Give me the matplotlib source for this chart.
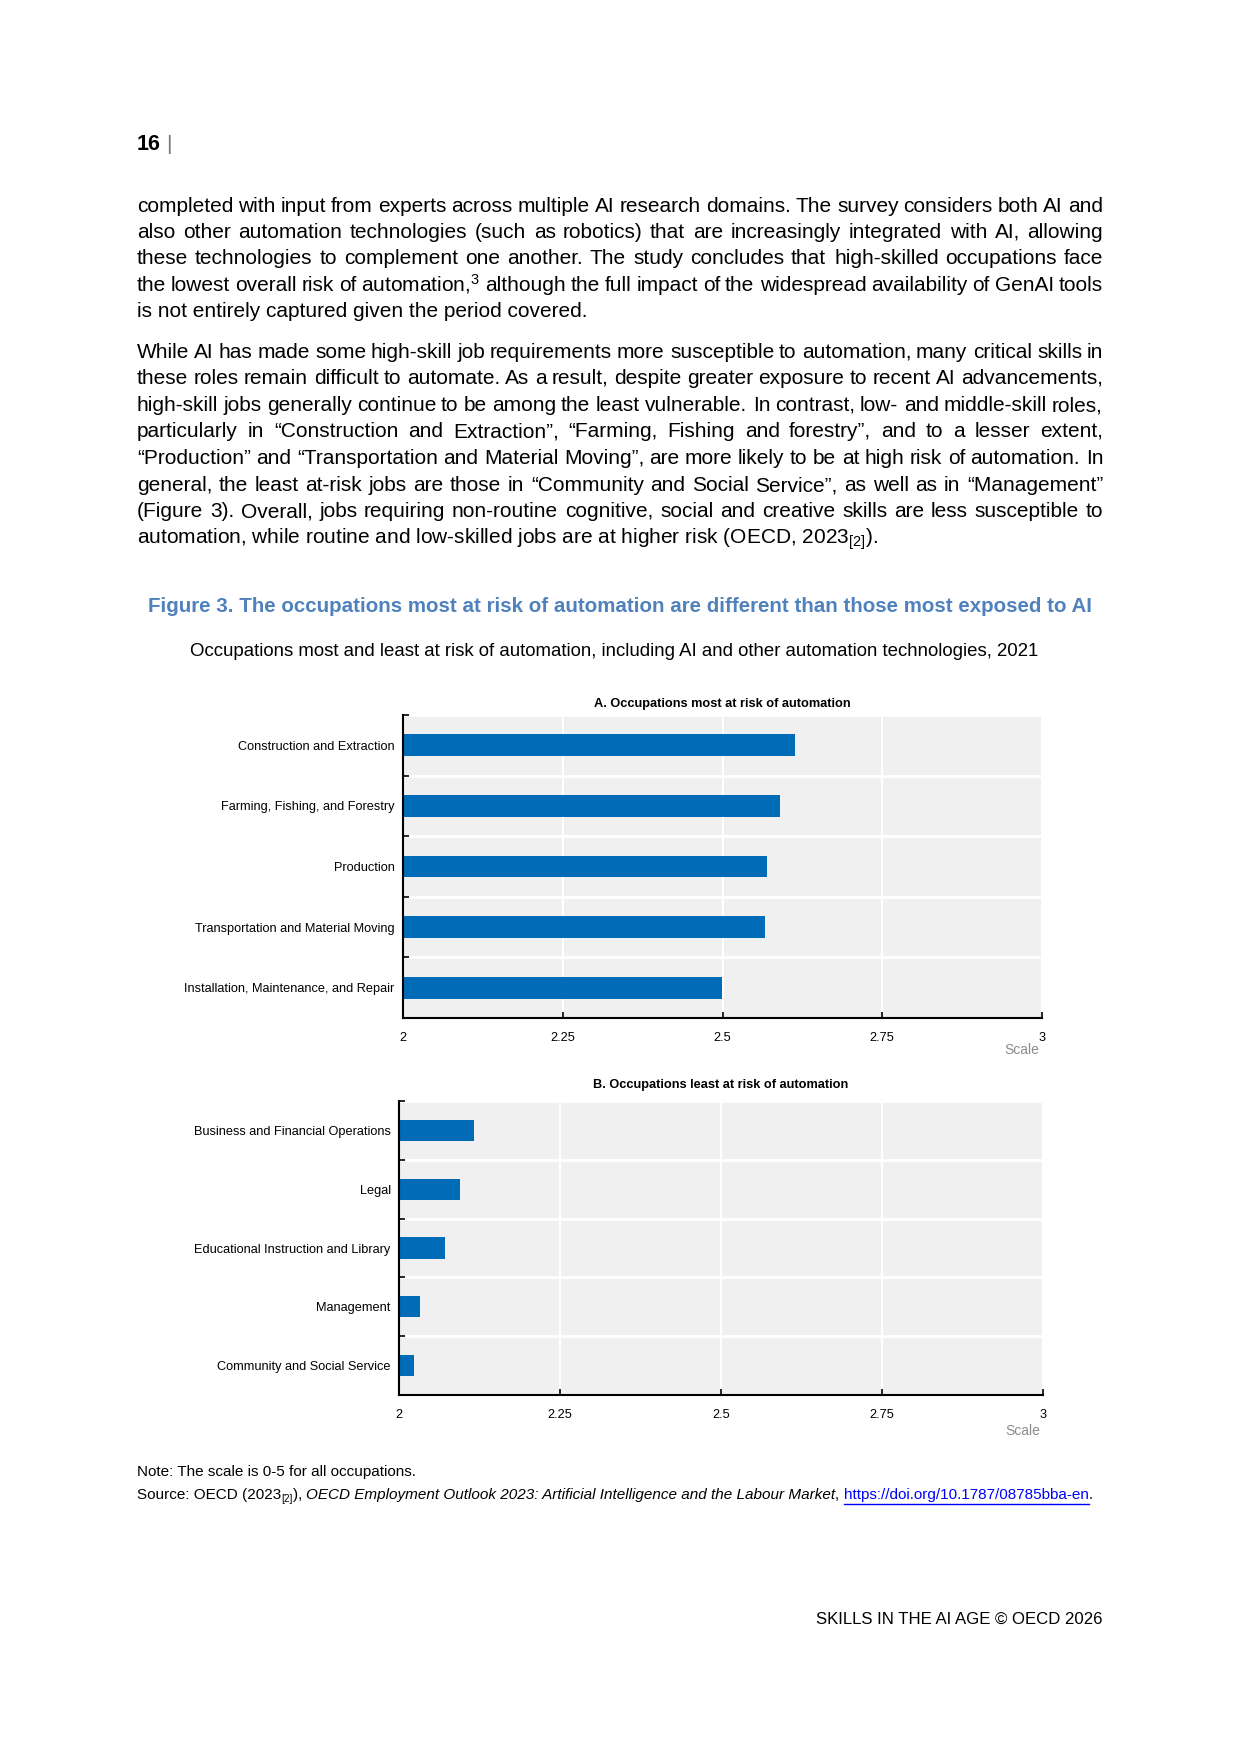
import matplotlib
matplotlib.use("Agg")
import matplotlib.pyplot as plt
from matplotlib.lines import Line2D
from matplotlib.ticker import FixedLocator

W, H = 1241, 1754

plt.rcParams["mathtext.fontset"] = "custom"
plt.rcParams["mathtext.rm"] = "Liberation Sans"
plt.rcParams["mathtext.it"] = "Liberation Sans:italic"
plt.rcParams["mathtext.bf"] = "Liberation Sans:bold"

BODY = ["Liberation Sans", "DejaVu Sans"]
NARROW = ["Liberation Sans Narrow", "Liberation Sans", "DejaVu Sans"]

# data
most_labels = [
    "Construction and Extraction",
    "Farming, Fishing, and Forestry",
    "Production",
    "Transportation and Material Moving",
    "Installation, Maintenance, and Repair",
]
most_values = [2.614, 2.590, 2.570, 2.567, 2.499]

least_labels = [
    "Business and Financial Operations",
    "Legal",
    "Educational Instruction and Library",
    "Management",
    "Community and Social Service",
]
least_values = [2.117, 2.095, 2.071, 2.032, 2.023]

x_ticks = [2, 2.25, 2.5, 2.75, 3]
x_ticklabels = ["2", "2.25", "2.5", "2.75", "3"]

para1 = [
    "completed with input from experts across multiple AI research domains. The survey considers both AI and",
    "also other automation technologies (such as robotics) that are increasingly integrated with AI, allowing",
    "these technologies to complement one another. The study concludes that high-skilled occupations face",
    "the lowest overall risk of automation,$^{3}$ although the full impact of the widespread availability of GenAI tools",
    "is not entirely captured given the period covered.",
]
para2 = [
    "While AI has made some high-skill job requirements more susceptible to automation, many critical skills in",
    "these roles remain difficult to automate. As a result, despite greater exposure to recent AI advancements,",
    "high-skill jobs generally continue to be among the least vulnerable. In contrast, low- and middle-skill roles,",
    "particularly in \u201cConstruction and Extraction\u201d, \u201cFarming, Fishing and forestry\u201d, and to a lesser extent,",
    "\u201cProduction\u201d and \u201cTransportation and Material Moving\u201d, are more likely to be at high risk of automation. In",
    "general, the least at-risk jobs are those in \u201cCommunity and Social Service\u201d, as well as in \u201cManagement\u201d",
    "(Figure 3). Overall, jobs requiring non-routine cognitive, social and creative skills are less susceptible to",
    "automation, while routine and low-skilled jobs are at higher risk (OECD, 2023$_{[2]}$).",
]

fig_title = "Figure 3. The occupations most at risk of automation are different than those most exposed to AI"
fig_subtitle = "Occupations most and least at risk of automation, including AI and other automation technologies, 2021"
source_parts = [
    ("Source: OECD (2023", "normal"),
    ("[2]", "sub"),
    ("), ", "normal"),
    ("OECD Employment Outlook 2023: Artificial Intelligence and the Labour Market", "italic"),
    (", ", "normal"),
    ("https://doi.org/10.1787/08785bba-en", "link"),
    (".", "normal"),
]

BAR = "#006BB6"
BG = "#F0F0F0"
TITLE_BLUE = "#4F81BD"

fig = plt.figure(figsize=(W / 100, H / 100), dpi=100)
renderer = fig.canvas.get_renderer()


def fx(px):
    return px / W


def fy(py):
    return 1 - py / H


def put(x, y, s, **kw):
    kw.setdefault("va", "center")
    kw.setdefault("ha", "left")
    t = fig.text(fx(x), fy(y), s, **kw)
    return t, t.get_window_extent(renderer)


def fit(s, width, base=12, **kw):
    # font size that makes s about `width` pixels wide (no narrow font installed)
    t, bb = put(0, 0, s, fontsize=base, **kw)
    t.remove()
    return base * width / bb.width


def justified(lines, y0, dy, left=137, right=1103, size=15):
    # y0 is the visual middle of the first line; words sit on a common baseline
    for i, line in enumerate(lines):
        base_y = round(y0 + i * dy + 0.27 * size * 100 / 72)
        if i == len(lines) - 1:
            put(left, base_y, line, fontsize=size, family=BODY, va="baseline")
            continue
        words = line.split(" ")
        texts = []
        total = 0
        for w in words:
            t, bb = put(left, base_y, w, fontsize=size, family=BODY, va="baseline")
            texts.append((t, bb.width))
            total += bb.width
        gap = (right - left - total) / (len(words) - 1)
        x = left
        for t, wd in texts:
            t.set_x(fx(round(x)))
            x += wd + gap


# header
t, bb = put(137, 145, "16", fontsize=15.5, family=BODY, weight="bold")
put(bb.x1 + 5, 145, "|", fontsize=15, family=BODY, color="#777777")

justified(para1, 206, 26.3)
justified(para2, 352, 26.6)

# figure titles
s = fit(fig_title, 942, family=NARROW, weight="bold")
put(148, 606, fig_title, fontsize=s, family=NARROW, weight="bold", color=TITLE_BLUE)
s = fit(fig_subtitle, 857, family=NARROW)
put(190, 651, fig_subtitle, fontsize=s, family=NARROW)

LAB = fit("Construction and Extraction", 158, family=NARROW)
PT = fit("A. Occupations most at risk of automation", 256, family=NARROW, weight="bold")


def panel(box, labels, values, title, title_y, scale_y):
    l, r, top, bot = box
    ax = fig.add_axes([fx(l), fy(bot), fx(r - l), (bot - top) / H])
    ax.set_facecolor(BG)
    pos = list(range(len(labels)))
    ax.barh(pos, [v - 2 for v in values], left=2, height=0.36, color=BAR, zorder=3)
    ax.set_xlim(2, 3)
    ax.set_ylim(len(labels) - 0.5, -0.5)
    ax.set_yticks(pos)
    ax.set_yticklabels(labels, family=NARROW, fontsize=LAB)
    ax.yaxis.set_minor_locator(FixedLocator([p - 0.5 for p in range(len(labels) + 1)]))
    ax.tick_params(axis="y", which="major", length=0, pad=6)
    ax.tick_params(axis="y", which="minor", direction="in", length=4, width=1.2)
    ax.set_xticks(x_ticks)
    ax.set_xticklabels(x_ticklabels, family=NARROW, fontsize=LAB)
    ax.tick_params(axis="x", direction="in", length=4, width=1.2, pad=10)
    ax.grid(axis="x", which="major", color="white", linewidth=1.5, zorder=1)
    ax.grid(axis="y", which="minor", color="white", linewidth=2, zorder=1)
    ax.set_axisbelow(True)
    for sp in ("top", "right"):
        ax.spines[sp].set_visible(False)
    for sp in ("left", "bottom"):
        ax.spines[sp].set_linewidth(1.5)
        ax.spines[sp].set_zorder(4)
    put((l + r) / 2, title_y, title, fontsize=PT, family=NARROW, weight="bold", ha="center")
    put(r - 3, scale_y, "Scale", fontsize=LAB * 1.08, family=NARROW, color="#8C8C8C", ha="right")
    return ax


panel((403, 1042, 715, 1018), most_labels, most_values,
      "A. Occupations most at risk of automation", 704, 1050)
panel((399, 1043, 1101, 1395), least_labels, least_values,
      "B. Occupations least at risk of automation", 1085, 1431)

# note and source
NS = fit("Note: The scale is 0-5 for all occupations.", 281, family=NARROW)
put(137, 1472, "Note: The scale is 0-5 for all occupations.", fontsize=NS, family=NARROW)

y = 1495
x = 137
for txt, kind in source_parts:
    if kind == "sub":
        t, bb = put(x, y + 4, txt, fontsize=NS * 0.65, family=NARROW)
    elif kind == "italic":
        t, bb = put(x, y, txt, fontsize=NS, family=NARROW, style="italic")
    elif kind == "link":
        t, bb = put(x, y, txt, fontsize=NS, family=NARROW, color="#0000FF")
        fig.add_artist(Line2D([fx(bb.x0), fx(bb.x1)], [fy(y + 9), fy(y + 9)],
                              color="#0000FF", linewidth=1))
    else:
        t, bb = put(x, y, txt, fontsize=NS, family=NARROW)
    x = bb.x1

# footer
FS = fit("SKILLS IN THE AI AGE \u00a9 OECD 2026", 286, family=BODY)
put(1103, 1619, "SKILLS IN THE AI AGE \u00a9 OECD 2026", fontsize=FS, family=BODY, ha="right")

fig.savefig("out.png", dpi=100)
